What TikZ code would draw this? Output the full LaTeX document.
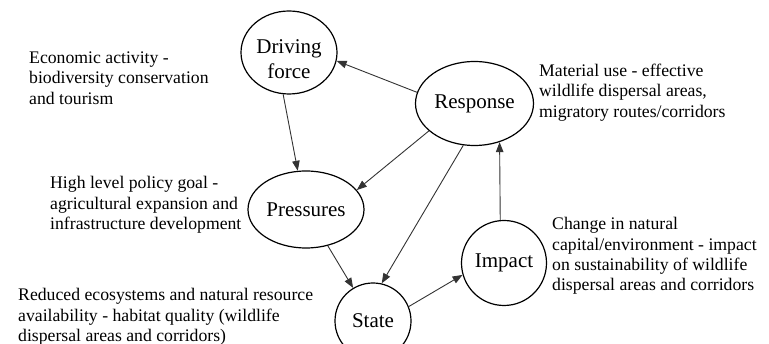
\documentclass[tikz,border=0pt]{standalone}
\usepackage{fontspec}
\setmainfont{Liberation Serif}
\usetikzlibrary{arrows.meta, shapes.geometric, positioning}

\begin{document}
\begin{tikzpicture}[x=1pt, y=-1pt,
    stage/.style={draw, ellipse, line width=1.2pt, inner sep=0pt, align=center,
        font=\fontsize{21}{24.5}\selectfont},
    note/.style={anchor=west, inner sep=0pt, align=left,
        font=\fontsize{17.7}{20.4}\selectfont},
    link/.style={-{Triangle[length=10pt, width=7.5pt]}, draw=black!80, line width=0.9pt}]
    % Canvas
    \useasboundingbox (0,0) rectangle (769,344);
    \clip (0,0) rectangle (769,344);

    % DPSIR stages
    \node[stage, minimum width=96, minimum height=83,
        label={[font=\fontsize{21}{24.5}\selectfont, align=center, yshift=-6.5pt]center:Driving\\force}]
        (drive) at (289,52.5) {};
    \node[stage, minimum width=118, minimum height=84] (resp)  at (474.5,103.5) {Response};
    \node[stage, minimum width=116, minimum height=77] (press) at (306,209.5) {Pressures};
    \node[stage, minimum width=85, minimum height=85]  (imp)   at (504,263)   {Impact};
    \node[stage, minimum width=76, minimum height=76]  (state) at (373,321)   {State};

    % Descriptions
    \node[note] (drivetxt) at (29,78)   {Economic activity -\\biodiversity conservation\\and tourism};
    \node[note] (resptxt)  at (539,92.5) {Material use - effective\\wildlife dispersal areas,\\migratory routes/corridors};
    \node[note] (presstxt) at (50,205)  {High level policy goal -\\agricultural expansion and\\infrastructure development};
    \node[note] (imptxt)   at (552,256) {Change in natural\\capital/environment - impact\\on sustainability of wildlife\\dispersal areas and corridors};
    \node[note] (statetxt) at (18,317)  {Reduced ecosystems and natural resource\\availability - habitat quality (wildlife\\dispersal areas and corridors)};

    % Links between stages
    \draw[link] (resp.169)   -- (drive.350);
    \draw[link] (drive.262)  -- (press.102);
    \draw[link] (resp.211)   -- (press.21);
    \draw[link] (resp.255)   -- (state.77);
    \draw[link] (press.301)  -- (state.121);
    \draw[link] (state.22)   -- (imp.196);
    \draw[link] (imp.95)     -- (resp.303);
\end{tikzpicture}
\end{document}
